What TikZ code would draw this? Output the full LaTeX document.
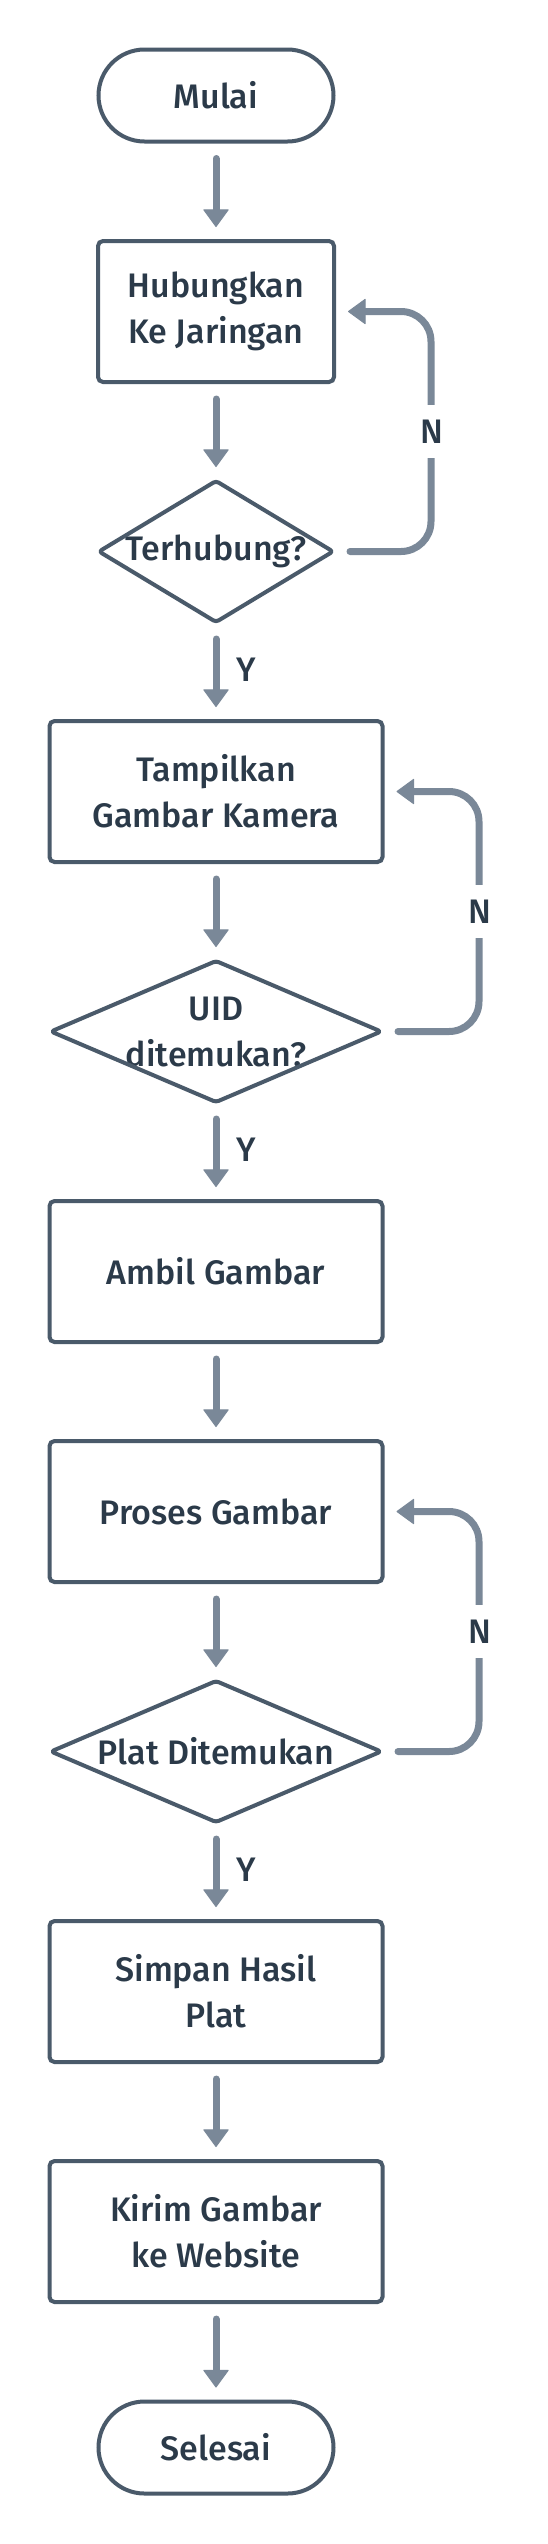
\documentclass[tikz,border=0pt]{standalone}
\usepackage{fontspec}
\setmainfont{Fira Sans}[UprightFont={* Medium}]
\usetikzlibrary{arrows.meta}
\definecolor{edgec}{HTML}{4A5A6A}
\definecolor{flowc}{HTML}{7A8898}
\definecolor{txtc}{HTML}{2B3A49}
\tikzset{
  base/.style={inner sep=0pt, outer sep=0pt, align=center, text=txtc, font=\fontsize{34}{46}\selectfont},
  term/.style={base, draw=edgec, line width=4pt, rounded corners=46pt, minimum width=235pt, minimum height=92pt},
  procbox/.style={base, draw=edgec, line width=4pt, rounded corners=5pt, minimum height=141pt},
  narrowbox/.style={procbox, minimum width=236pt},
  widebox/.style={procbox, minimum width=333pt},
  decis/.style={base, minimum height=141pt},
  rhomb/.style={draw=edgec, line width=4pt, line join=round, rounded corners=3pt},
  flow/.style={draw=flowc, line width=7pt, line cap=round,
    -{Triangle[length=18pt,width=26pt,line width=1pt,round]},
    shorten <=17pt, shorten >=14pt},
  loopflow/.style={flow, rounded corners=30pt},
  lbl/.style={text=txtc, font=\fontsize{34}{34}\selectfont, inner sep=0pt},
  nlbl/.style={lbl, fill=white, minimum height=53pt, minimum width=26pt},
}
\begin{document}
\begin{tikzpicture}[x=1pt,y=-1pt]
\fill[white] (0,0) rectangle (548,2544);
\useasboundingbox (0,0) rectangle (548,2544);

\node[term] (mulai) at (216,95.5) {Mulai};
\node[narrowbox] (hub) at (216,311.5) {Hubungkan\\Ke Jaringan};
\node[decis, minimum width=234pt] (ter) at (216,551.5) {Terhubung?};
\node[widebox] (tam) at (216,791.5) {Tampilkan\\Gambar Kamera};
\node[decis, minimum width=330pt] (uid) at (216,1031.5) {UID\\ditemukan?};
\node[widebox] (amb) at (216,1271.5) {Ambil Gambar};
\node[widebox] (pro) at (216,1511.5) {Proses Gambar};
\node[decis, minimum width=330pt] (plat) at (216,1751.5) {Plat Ditemukan};
\node[widebox] (sim) at (216,1991.5) {Simpan Hasil\\Plat};
\node[widebox] (kir) at (216,2231.5) {Kirim Gambar\\ke Website};
\node[term] (sel) at (216,2447.5) {Selesai};

\draw[rhomb] (ter.north) -- (ter.east) -- (ter.south) -- (ter.west) -- cycle;
\draw[rhomb] (uid.north) -- (uid.east) -- (uid.south) -- (uid.west) -- cycle;
\draw[rhomb] (plat.north) -- (plat.east) -- (plat.south) -- (plat.west) -- cycle;

\draw[flow] (mulai.south) -- (hub.north);
\draw[flow] (hub.south) -- (ter.north);
\draw[flow] (ter.south) -- (tam.north);
\draw[flow] (tam.south) -- (uid.north);
\draw[flow] (uid.south) -- (amb.north);
\draw[flow] (amb.south) -- (pro.north);
\draw[flow] (pro.south) -- (plat.north);
\draw[flow] (plat.south) -- (sim.north);
\draw[flow] (sim.south) -- (kir.north);
\draw[flow] (kir.south) -- (sel.north);

\draw[loopflow] (ter.east) -- ++(98,0) |- (hub.east);
\draw[loopflow] (uid.east) -- ++(98,0) |- (tam.east);
\draw[loopflow] (plat.east) -- ++(98,0) |- (pro.east);

\node[nlbl] (n1) at (432,431.5) {N};
\node[nlbl] (n2) at (480,911.5) {N};
\node[nlbl] (n3) at (480,1631.5) {N};

\node[lbl, anchor=west] (y1) at (236,670) {Y};
\node[lbl, anchor=west] (y2) at (236,1150) {Y};
\node[lbl, anchor=west] (y3) at (236,1870) {Y};
\end{tikzpicture}
\end{document}
